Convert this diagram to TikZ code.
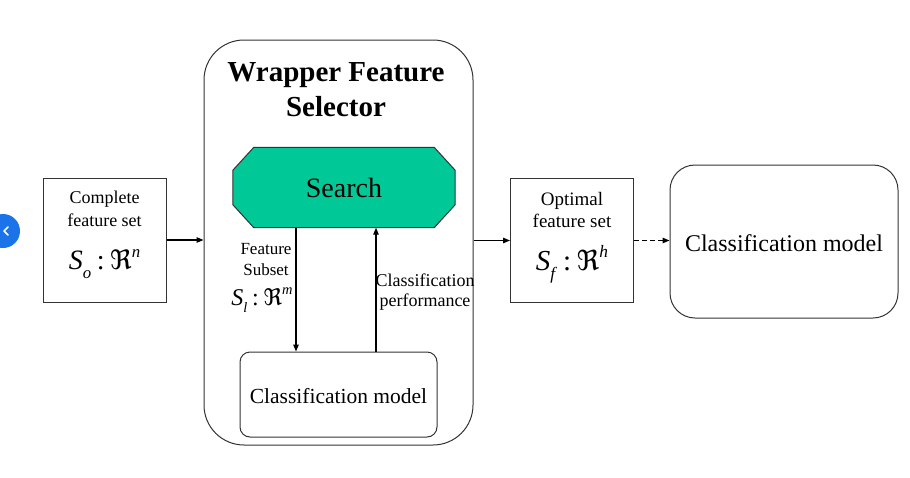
\documentclass[tikz,border=0pt]{standalone}
\usepackage{fontspec}
\setmainfont{Liberation Serif}
\newfontfamily\frakfont{DejaVu Sans}
\usetikzlibrary{arrows.meta}
\definecolor{searchgreen}{HTML}{00C896}
\definecolor{uiblue}{HTML}{1A73E8}
\definecolor{edge}{HTML}{333333}
\newcommand{\featspace}[3]{\textit{S}\raisebox{-0.3em}{\scalebox{0.6}{\textit{#1}}}\hspace{0.2em}:\hspace{0.2em}{\frakfont\scalebox{0.95}{ℜ}}\raisebox{0.45em}{\scalebox{0.6}{\textit{#2}}}}
\begin{document}
\begin{tikzpicture}[x=1pt,y=-1pt,
  box/.style={draw=edge,line width=1pt,inner sep=0pt},
  arr/.style={line width=1.2pt,-{Triangle[length=7pt,width=5.5pt]}},
  fs/.style 2 args={font=\fontsize{#1}{#2}\selectfont}]
\useasboundingbox (0,0) rectangle (910,477);
% UI button
\node[circle,fill=uiblue,minimum size=34pt,inner sep=0pt] (ui) at (3,231) {};
\draw[white,line width=1.6pt,line cap=round,line join=round] ([xshift=5pt,yshift=-4pt]ui.center) -- ([xshift=1pt]ui.center) -- ([xshift=5pt,yshift=4pt]ui.center);
% boxes
\node[box,minimum width=123pt,minimum height=124pt] (complete) at (104.5,240) {};
\node[box,rounded corners=40pt,minimum width=269pt,minimum height=405pt] (wrapper) at (338.5,242.5) {};
\node[inner sep=0pt,minimum width=222pt,minimum height=80pt] (search) at (344,187.5) {};
\draw[draw=edge,line width=1pt,fill=searchgreen]
  ([xshift=21pt]search.north west) -- ([xshift=-21pt]search.north east)
  -- ([yshift=-23pt]search.north east) -- ([yshift=23pt]search.south east)
  -- ([xshift=-21pt]search.south east) -- ([xshift=21pt]search.south west)
  -- ([yshift=23pt]search.south west) -- ([yshift=-23pt]search.north west) -- cycle;
\node[box,rounded corners=10pt,minimum width=197pt,minimum height=85pt] (inner) at (338.5,394.5) {};
\node[box,minimum width=123pt,minimum height=124pt] (optimal) at (572,240.5) {};
\node[box,rounded corners=25pt,minimum width=228pt,minimum height=153pt] (final) at (784,241.5) {};
% texts
\node[fs={18}{23},align=center] (ctext) at (104.5,209) {Complete\\feature set};
\node[fs={28}{34}] (cmath) at (104.5,264) {\featspace{o}{n}{}};
\node[font=\bfseries\fontsize{29}{35}\selectfont,align=center] (title) at (336,90) {Wrapper Feature\\Selector};
\node[fs={28}{34}] (stext) at (344,188) {Search};
\node[fs={17}{21},align=center] (fsub) at (266,260) {Feature\\Subset};
\node[fs={24}{29}] (smath) at (262,300) {\featspace{l}{m}{}};
\node[fs={18}{20},align=center] (perf) at (425,292.5) {Classification\\performance};
\node[fs={21.5}{26}] (itext) at (338.5,396) {Classification model};
\node[fs={19}{22},align=center] (otext) at (572,210) {Optimal\\feature set};
\node[fs={29}{35}] (omath) at (572,264) {\featspace{f}{h}{}};
\node[fs={24}{29}] (ftext) at (784,243) {Classification model};
% connectors
\coordinate (dx) at (296,0);
\coordinate (ux) at (376,0);
\draw[arr] (complete.east) -- (complete.east -| wrapper.west);
\draw[arr] (dx |- search.south) -- (dx |- inner.north);
\draw[arr] (ux |- inner.north) -- (ux |- search.south);
\draw[arr] (wrapper.east |- optimal.west) -- (optimal.west);
\draw[arr,dashed,dash pattern=on 5pt off 3pt] (optimal.east) -- (optimal.east -| final.west);
\end{tikzpicture}
\end{document}
